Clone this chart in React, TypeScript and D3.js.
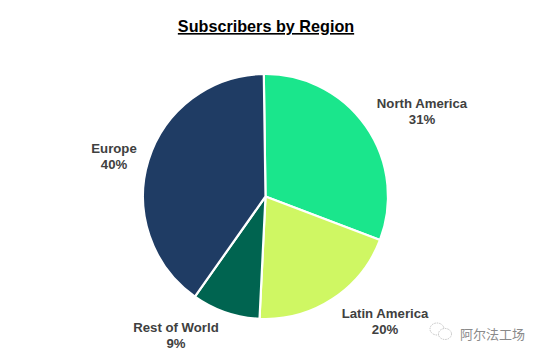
import React from "react";
import * as d3 from "d3";

const categories = ["North America", "Latin America", "Rest of World", "Europe"];
const values = [31, 20, 9, 40];
const colors = ["#1AE68C", "#CFF763", "#006450", "#1F3C64"];
const labelPos: [number, number][] = [[422, 104], [385, 313.5], [176, 328], [114, 149]];

const cx = 265.5, cy = 196.5, R = 122.5;
const offset = (-0.8 * Math.PI) / 180;

export default function App() {
  const pie = d3.pie<number>().sort(null).startAngle(offset).endAngle(offset + 2 * Math.PI);
  const arc = d3.arc<d3.PieArcDatum<number>>().innerRadius(0).outerRadius(R);
  const arcs = pie(values);
  return (
    <svg width={542} height={358} style={{ position: "absolute", left: 0, top: 0, background: "#fff" }}>
      <text x={266} y={32} textAnchor="middle" fontFamily="Liberation Sans" fontWeight="bold" fontSize={16.2} fill="#000" textDecoration="underline" style={{ textDecorationThickness: "2px" }}>
        Subscribers by Region
      </text>
      <g transform={`translate(${cx},${cy})`}>
        {arcs.map((a, i) => (
          <path key={categories[i]} d={arc(a) ?? ""} fill={colors[i]} stroke="#fff" strokeWidth={2.2} strokeLinejoin="round" />
        ))}
      </g>
      {categories.map((c, i) => (
        <text key={c} textAnchor="middle" fontFamily="Liberation Sans" fontWeight="bold" fontSize={13.2} fill="#404040">
          <tspan x={labelPos[i][0]} y={labelPos[i][1] + 4}>{c}</tspan>
          <tspan x={labelPos[i][0]} y={labelPos[i][1] + 20}>{values[i]}%</tspan>
        </text>
      ))}
      <g fill="none" stroke="#b5b5b5" strokeWidth={0.8} strokeDasharray="1.5 1">
        <ellipse cx={437} cy={329} rx={7} ry={6} />
        <ellipse cx={445} cy={334} rx={6.5} ry={5.5} fill="#fff" />
      </g>
      <text x={460} y={338.5} fontFamily="Noto Sans CJK SC" fontSize={13} fill="#8a8a8a">阿尔法工场</text>
    </svg>
  );
}
